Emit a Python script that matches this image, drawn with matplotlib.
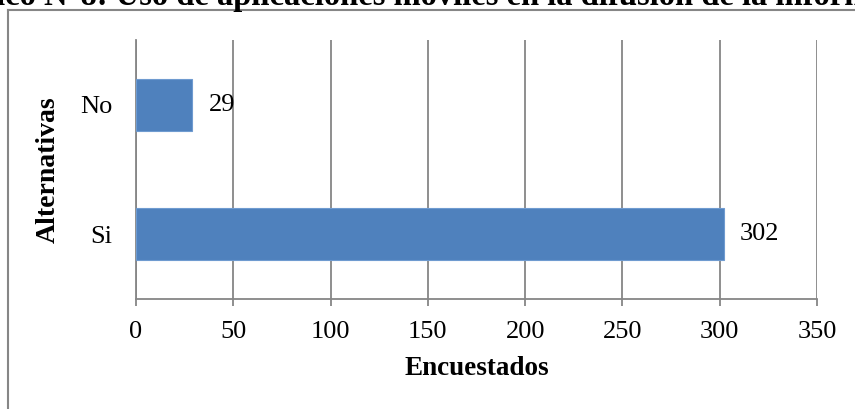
import matplotlib
matplotlib.use("Agg")
import matplotlib.pyplot as plt
from matplotlib.lines import Line2D

categories = ["Si", "No"]
values = [302, 29]
xticks = [0, 50, 100, 150, 200, 250, 300, 350]
title = "Gráfico N°8: Uso de aplicaciones móviles en la difusión de la información"

plt.rcParams['font.family'] = ['Liberation Serif', 'DejaVu Serif']
W, H = 855, 409
fig = plt.figure(figsize=(W/100, H/100), dpi=100)
ax = fig.add_axes([136/W, 1-299/H, (817-136)/W, (299-40)/H])

gray = "#868686"
bar_color = "#4F81BD"
ypos = list(range(len(categories)))
ax.barh(ypos, values, height=0.4, color=bar_color, edgecolor="#6f9bd0", linewidth=0.8, zorder=3)
ax.set_ylim(-0.5, len(categories)-0.5)
ax.set_xlim(0, 350)
ax.set_xticks(xticks)
ax.set_xticklabels([str(t) for t in xticks], fontsize=19)
ax.set_yticks(ypos)
ax.set_yticklabels(categories, fontsize=19)
ax.tick_params(axis='x', length=5, width=1.3, color=gray, pad=11)
ax.tick_params(axis='y', length=0, pad=17)
ax.grid(axis='x', color=gray, linewidth=1.3, zorder=0)
for s in ['top', 'right']:
    ax.spines[s].set_visible(False)
for s in ['left', 'bottom']:
    ax.spines[s].set_color(gray)
    ax.spines[s].set_linewidth(1.3)

for y, v in zip(ypos, values):
    ax.annotate(str(v), (v, y), xytext=(16, 0), textcoords='offset pixels',
                va='center', ha='left', fontsize=19)

ax.set_xlabel("Encuestados", fontsize=19.5, fontweight='bold', labelpad=9)
ax.set_ylabel("Alternativas", fontsize=20, fontweight='bold', labelpad=14)

# outer frame (left and top edges)
fig.add_artist(Line2D([8/W, 8/W], [0, 1-10/H], color=gray, linewidth=1.5, transform=fig.transFigure))
fig.add_artist(Line2D([8/W, 1], [1-10/H, 1-10/H], color=gray, linewidth=1.5, transform=fig.transFigure))

fig.text(0.512, 1-5/H, title, ha='center', va='baseline', fontsize=23.5, fontweight='bold')

fig.savefig("out.png", dpi=100)
